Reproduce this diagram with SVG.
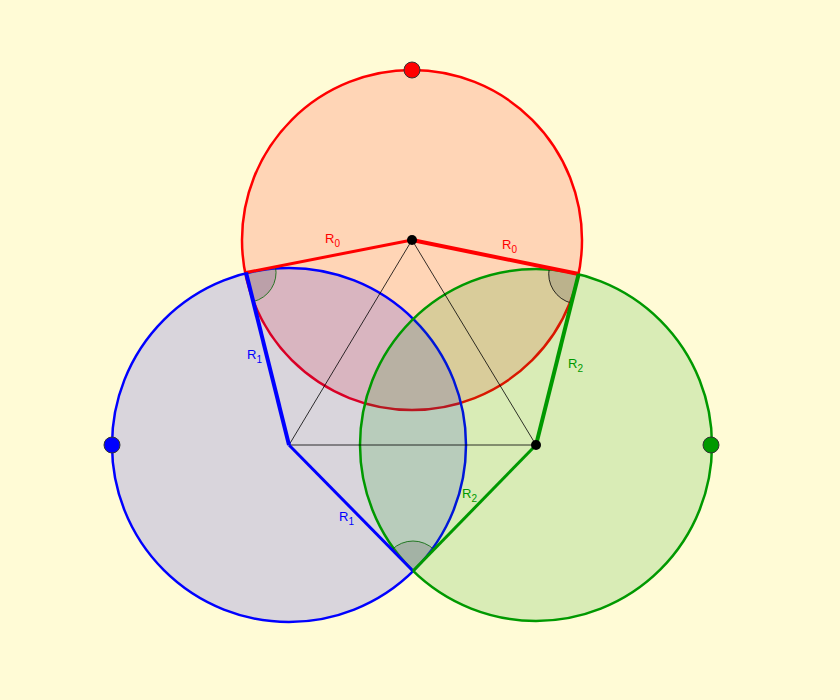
<svg xmlns="http://www.w3.org/2000/svg" width="840" height="700" viewBox="0 0 840 700">
<style>
.lbl{font-family:"Liberation Sans",Arial,sans-serif;font-size:13px}
.sub{font-size:10px}
.thin{stroke:#000;stroke-width:0.8;fill:none}
.sector{fill:#646464;fill-opacity:0.25}
.dot{stroke:#333;stroke-width:1}
</style>
<rect x="0" y="0" width="840" height="700" fill="#FFFBD6"/>
<g id="circle-red">
<circle cx="412" cy="240" r="170" fill="#FF0000" fill-opacity="0.15" stroke="#FF0000" stroke-width="2.5"/>
</g>
<g id="circle-blue">
<circle cx="289" cy="445" r="177" fill="#0000FF" fill-opacity="0.15" stroke="#0000FF" stroke-width="2.5"/>
</g>
<g id="circle-green">
<circle cx="536" cy="445" r="176" fill="#009900" fill-opacity="0.15" stroke="#009900" stroke-width="2.5"/>
</g>
<g id="angles">
<path class="sector" d="M246,272.5 L275.5,266.8 A30,30 0 0 1 253.3,301.6 Z" stroke="#006600" stroke-width="0.8"/>
<path class="sector" d="M578.7,274 L549.3,268 A30,30 0 0 0 571.5,303.1 Z" stroke="#000" stroke-width="0.8"/>
<path class="sector" d="M413,571 L392,549.6 A30,30 0 0 1 434,549.6 Z" stroke="#006600" stroke-width="0.8"/>
</g>
<g id="connectors">
<polyline class="thin" points="412,240 289,445 536,445 412,240"/>
<line x1="246" y1="272.5" x2="412" y2="240" stroke="#FF0000" stroke-width="3"/>
<line x1="412" y1="240" x2="578.7" y2="274" stroke="#FF0000" stroke-width="4"/>
<line x1="246" y1="272.5" x2="289" y2="445" stroke="#0000FF" stroke-width="4"/>
<line x1="289" y1="445" x2="413" y2="571" stroke="#0000FF" stroke-width="3"/>
<line x1="578.7" y1="274" x2="536" y2="445" stroke="#009900" stroke-width="4"/>
<line x1="536" y1="445" x2="413" y2="571" stroke="#009900" stroke-width="3"/>
</g>
<g id="labels">
<text class="lbl" x="325" y="243" fill="#FF0000">R<tspan class="sub" dy="4">0</tspan></text>
<text class="lbl" x="502" y="249" fill="#FF0000">R<tspan class="sub" dy="4">0</tspan></text>
<text class="lbl" x="247" y="359" fill="#0000FF">R<tspan class="sub" dy="4">1</tspan></text>
<text class="lbl" x="339" y="521" fill="#0000FF">R<tspan class="sub" dy="4">1</tspan></text>
<text class="lbl" x="568" y="368" fill="#009900">R<tspan class="sub" dy="4">2</tspan></text>
<text class="lbl" x="462" y="498" fill="#009900">R<tspan class="sub" dy="4">2</tspan></text>
</g>
<g id="points">
<circle class="dot" cx="412" cy="70" r="8" fill="#FF0000"/>
<circle class="dot" cx="112" cy="445" r="8" fill="#0000FF"/>
<circle class="dot" cx="711" cy="445" r="8" fill="#009900"/>
<circle cx="412" cy="240" r="5" fill="#000"/>
<circle cx="536" cy="445" r="5" fill="#000"/>
</g>
</svg>
